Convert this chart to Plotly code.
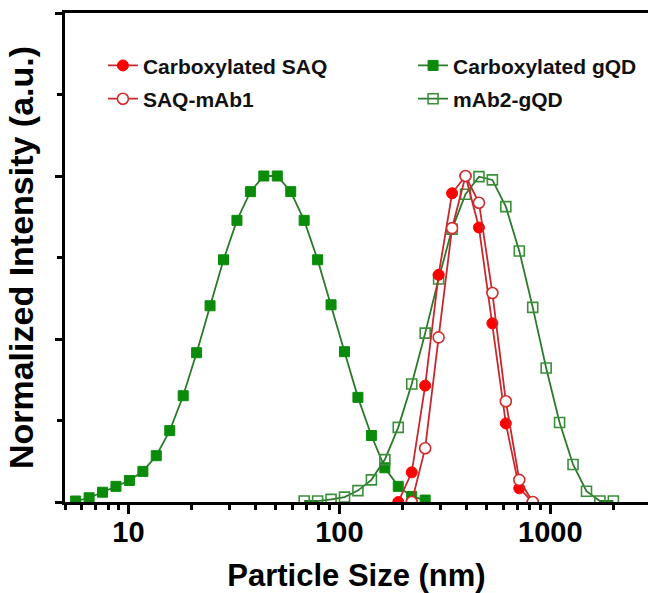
import plotly.graph_objects as go

# ---- data ----
size_cgqd = [5.615, 6.503, 7.531, 8.721, 10.1, 11.7, 13.54, 15.69, 18.17, 21.04, 24.36, 28.21, 32.67,
             37.84, 43.82, 50.75, 58.77, 68.06, 78.82, 91.28, 105.7, 122.4, 141.8, 164.2, 190.1, 220.2, 255]
int_cgqd = [0.003, 0.013, 0.03, 0.048, 0.066, 0.094, 0.142, 0.219, 0.326, 0.458, 0.602, 0.743, 0.864,
            0.952, 1.0, 1.0, 0.952, 0.864, 0.743, 0.605, 0.461, 0.321, 0.204, 0.105, 0.048, 0.017, 0.006]

size_mgqd = [68.06, 78.82, 91.28, 105.7, 122.4, 141.8, 164.2, 190.1, 220.2, 255, 295.3, 342, 396.1,
             458.7, 531.2, 615.1, 712.4, 825, 955.4, 1106, 1281, 1484, 1718, 1990]
int_mgqd = [0.003, 0.003, 0.008, 0.015, 0.035, 0.068, 0.130, 0.229, 0.362, 0.518, 0.684, 0.837, 0.944,
            0.998, 0.988, 0.906, 0.770, 0.597, 0.411, 0.244, 0.115, 0.033, 0.003, 0.003]

size_csaq = [190.1, 220.2, 255, 295.3, 342, 396.1, 458.7, 531.2, 615.1, 712.4, 825]
int_csaq = [0.0, 0.091, 0.357, 0.697, 0.947, 1.0, 0.842, 0.548, 0.241, 0.042, 0.0]

size_saqm = [220.2, 255, 295.3, 342, 396.1, 458.7, 531.2, 615.1, 712.4, 825]
int_saqm = [0.0, 0.165, 0.505, 0.840, 1.0, 0.918, 0.641, 0.309, 0.068, 0.0]

major_ticks = [10, 100, 1000]
major_labels = ["10", "100", "1000"]
minor_ticks = [5, 6, 7, 8, 9, 20, 30, 40, 50, 60, 70, 80, 90,
               200, 300, 400, 500, 600, 700, 800, 900, 2000, 3000]

FONT = "Liberation Sans, Arial, sans-serif"
RED_LINE = "#c8282d"
RED = "#ff0000"
GREEN_LINE = "#2a7a2a"
GREEN = "#0a8c0a"
X_RANGE = [0.69897, 3.463]

fig = go.Figure()

fig.add_trace(go.Scatter(
    x=size_cgqd, y=int_cgqd, name="Carboxylated gQD", mode="lines+markers",
    line=dict(color=GREEN_LINE, width=1.8),
    marker=dict(symbol="square", size=10, color=GREEN, line=dict(color=GREEN, width=1)),
    legend="legend2", legendgroup="g1", legendrank=1))
fig.add_trace(go.Scatter(
    x=size_mgqd, y=int_mgqd, name="mAb2-gQD", mode="lines+markers",
    line=dict(color=GREEN_LINE, width=1.8),
    marker=dict(symbol="square-open", size=10, color="#3a8f3a", line=dict(width=1.6)),
    legend="legend2", legendgroup="g2", legendrank=2))
fig.add_trace(go.Scatter(
    x=size_csaq, y=int_csaq, name="Carboxylated SAQ", mode="lines+markers",
    line=dict(color=RED_LINE, width=1.8),
    marker=dict(symbol="circle", size=11, color=RED, line=dict(color=RED, width=1)),
    legend="legend", legendgroup="r1", legendrank=1))
fig.add_trace(go.Scatter(
    x=size_saqm, y=int_saqm, name="SAQ-mAb1", mode="lines+markers",
    line=dict(color=RED_LINE, width=1.8),
    marker=dict(symbol="circle", size=11, color="white", line=dict(color="#d42a2a", width=1.6)),
    legend="legend", legendgroup="r2", legendrank=2))

legend_common = dict(
    orientation="v", yanchor="top", xanchor="left", y=0.934,
    font=dict(family=FONT, size=21, color="#111111", weight="bold"),
    bgcolor="rgba(0,0,0,0)", tracegroupgap=3, traceorder="grouped",
)

fig.update_layout(
    width=648, height=593,
    margin=dict(l=65, r=0, t=13, b=91, autoexpand=False),
    paper_bgcolor="white", plot_bgcolor="white",
    font=dict(family=FONT, color="black"),
    showlegend=True,
    legend=dict(x=0.065, **legend_common),
    legend2=dict(x=0.597, **legend_common),
    xaxis=dict(
        type="log", range=X_RANGE, automargin=False,
        showline=True, linecolor="black", linewidth=3, mirror=True,
        showgrid=False, zeroline=False,
        tickmode="array", tickvals=major_ticks,
        ticks="outside", ticklen=9, tickwidth=2.5, tickcolor="black",
        showticklabels=False,
        minor=dict(tickmode="array", tickvals=minor_ticks, ticks="outside",
                   ticklen=5, tickwidth=2.5, tickcolor="black", showgrid=False),
    ),
    xaxis2=dict(
        type="log", range=X_RANGE, overlaying="x", anchor="y", side="bottom",
        automargin=False, showline=False, showgrid=False, zeroline=False,
        tickmode="array", tickvals=major_ticks, ticktext=major_labels,
        ticks="outside", ticklen=4, tickcolor="rgba(0,0,0,0)",
        tickfont=dict(family=FONT, size=29, color="black", weight="bold"),
        title=dict(text="Particle Size (nm)", standoff=20,
                   font=dict(family=FONT, size=31, color="black", weight="bold")),
    ),
    yaxis=dict(
        range=[0, 1.5], automargin=False,
        showline=True, linecolor="black", linewidth=3, mirror=False,
        showgrid=False, zeroline=False,
        tickmode="array", tickvals=[0, 0.5, 1.0, 1.5],
        ticks="outside", ticklen=7, tickwidth=2.5, tickcolor="black",
        showticklabels=False,
        minor=dict(tickmode="array", tickvals=[0.25, 0.75, 1.25], ticks="outside",
                   ticklen=5, tickwidth=2.5, tickcolor="black", showgrid=False),
        title=dict(text="Normalized Intensity (a.u.)", standoff=12,
                   font=dict(family=FONT, size=34, color="black", weight="bold")),
    ),
)

# invisible helper trace so that xaxis2 is drawn (labels only)
fig.add_trace(go.Scatter(x=[major_ticks[0]], y=[None], xaxis="x2", yaxis="y",
                         showlegend=False, hoverinfo="skip", mode="markers"))

fig.write_html("out.html")
